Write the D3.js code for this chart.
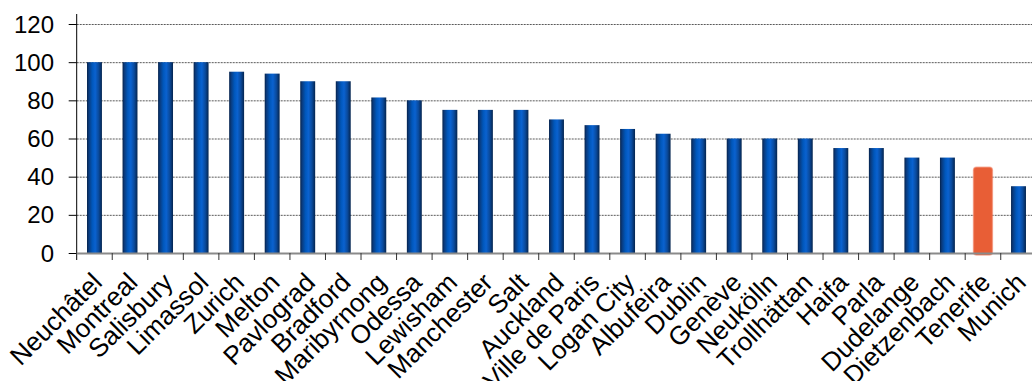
<!DOCTYPE html>
<html>
<head>
<meta charset="utf-8">
<script src="https://cdn.jsdelivr.net/npm/d3@7"></script>
<style>
  html, body { margin: 0; padding: 0; background: #fff; overflow: hidden; }
  svg { display: block; }
  text { font-family: "Liberation Sans", Arial, sans-serif; fill: #000; }
</style>
</head>
<body>
<svg id="chart" width="1032" height="381"></svg>
<script>
// Cities, ranked by score
const cities = ["Neuchâtel", "Montreal", "Salisbury", "Limassol", "Zurich", "Melton",
  "Pavlograd", "Bradford", "Maribyrnong", "Odessa", "Lewisham", "Manchester", "Salt",
  "Auckland", "Ville de Paris", "Logan City", "Albufeira", "Dublin", "Genève",
  "Neukölln", "Trollhättan", "Haifa", "Parla", "Dudelange", "Dietzenbach",
  "Tenerife", "Munich"];
const scores = [100, 100, 100, 100, 95, 94, 90, 90, 81.5, 80, 75, 75, 75, 70, 67, 65,
  62.5, 60, 60, 60, 60, 55, 55, 50, 50, 45, 35];
const yTicks = [0, 20, 40, 60, 80, 100, 120];
const highlighted = ["Tenerife"];

const svg = d3.select("#chart");

const left = 76.7, bandStep = 35.54;
const x = d3.scaleBand()
  .domain(cities)
  .range([left, left + bandStep * cities.length])
  .padding(0);
const y = d3.scaleLinear().domain([0, 120]).range([253, 24]);

// Bar gradient: dark edges, bright centre
const defs = svg.append("defs");
const grad = defs.append("linearGradient").attr("id", "barGrad")
  .attr("x1", "0%").attr("x2", "100%").attr("y1", "0%").attr("y2", "0%");
[["0%", "#04214a"], ["12%", "#0a3a7c"], ["35%", "#0057bb"], ["55%", "#0a62d0"],
 ["78%", "#0a4a9c"], ["100%", "#04244e"]]
  .forEach(([o, c]) => grad.append("stop").attr("offset", o).attr("stop-color", c));

// Dotted gridlines
svg.append("g")
  .selectAll("line")
  .data(yTicks.filter(d => d > 0))
  .join("line")
  .attr("x1", left).attr("x2", 1032)
  .attr("y1", d => y(d) + 0.5).attr("y2", d => y(d) + 0.5)
  .attr("stroke", "#5a5a5a")
  .attr("stroke-width", 1)
  .attr("stroke-dasharray", "2,1");

// Bars
const barW = bandStep * 0.42;
svg.append("g")
  .selectAll("rect")
  .data(cities.map((c, i) => ({ city: c, value: scores[i] })))
  .join("rect")
  .each(function (d) {
    const sel = d3.select(this);
    const cx = x(d.city) + x.bandwidth() / 2;
    if (highlighted.includes(d.city)) {
      const w = bandStep * 0.53;
      sel.attr("x", cx - w / 2).attr("width", w)
        .attr("y", y(d.value)).attr("height", y(0) - y(d.value) + 2)
        .attr("rx", 3).attr("ry", 3)
        .attr("fill", "#e85e36")
        .attr("stroke", "rgba(240,120,90,0.55)")
        .attr("stroke-width", 1.5);
    } else {
      sel.attr("x", cx - barW / 2).attr("width", barW)
        .attr("y", y(d.value)).attr("height", y(0) - y(d.value))
        .attr("fill", "url(#barGrad)");
    }
  });

// Y axis
const yAxis = svg.append("g");
yAxis.append("line")
  .attr("x1", left).attr("x2", left)
  .attr("y1", 14).attr("y2", y(0) + 7)
  .attr("stroke", "#000").attr("stroke-width", 1);
yAxis.selectAll("line.tick")
  .data(yTicks)
  .join("line")
  .attr("class", "tick")
  .attr("x1", left - 8).attr("x2", left)
  .attr("y1", d => y(d) + 0.5).attr("y2", d => y(d) + 0.5)
  .attr("stroke", "#000").attr("stroke-width", 1);
yAxis.selectAll("text")
  .data(yTicks)
  .join("text")
  .attr("x", 54)
  .attr("y", d => y(d))
  .attr("dy", "0.36em")
  .attr("text-anchor", "end")
  .attr("font-size", 24)
  .text(d => d);

// X axis
const xAxis = svg.append("g");
xAxis.append("line")
  .attr("x1", left).attr("x2", 1032)
  .attr("y1", y(0) + 0.5).attr("y2", y(0) + 0.5)
  .attr("stroke", "#8a8a8a").attr("stroke-width", 2);
xAxis.selectAll("line.tick")
  .data(cities.slice(1))
  .join("line")
  .attr("class", "tick")
  .attr("x1", d => x(d)).attr("x2", d => x(d))
  .attr("y1", y(0)).attr("y2", y(0) + 7)
  .attr("stroke", "#333").attr("stroke-width", 1);
xAxis.selectAll("text")
  .data(cities)
  .join("text")
  .attr("text-anchor", "end")
  .attr("font-size", 26)
  .attr("transform", d => {
    const cx = x(d) + x.bandwidth() / 2;
    return `translate(${cx + 9},${284}) rotate(-45)`;
  })
  .text(d => d);
</script>
</body>
</html>
